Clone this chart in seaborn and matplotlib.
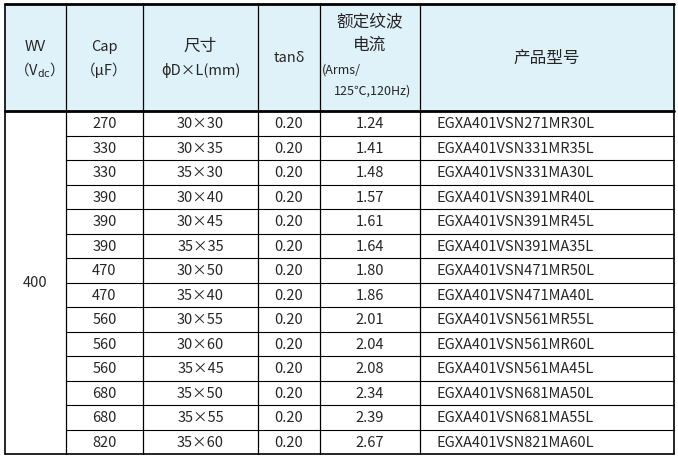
import matplotlib
matplotlib.use("Agg")
import matplotlib.pyplot as plt
import seaborn as sns
from matplotlib.patches import Rectangle

sns.set_theme(style="white")
plt.rcParams['font.family'] = ['Noto Sans CJK SC', 'DejaVu Sans']

wv = "400"
caps = ["270","330","330","390","390","390","470","470","560","560","560","680","680","820"]
sizes = ["30×30","30×35","35×30","30×40","30×45","35×35","30×50","35×40","30×55","30×60","35×45","35×50","35×55","35×60"]
tand = ["0.20"]*14
ripple = ["1.24","1.41","1.48","1.57","1.61","1.64","1.80","1.86","2.01","2.04","2.08","2.34","2.39","2.67"]
parts = ["EGXA401VSN271MR30L","EGXA401VSN331MR35L","EGXA401VSN331MA30L","EGXA401VSN391MR40L",
         "EGXA401VSN391MR45L","EGXA401VSN391MA35L","EGXA401VSN471MR50L","EGXA401VSN471MA40L",
         "EGXA401VSN561MR55L","EGXA401VSN561MR60L","EGXA401VSN561MA45L","EGXA401VSN681MA50L",
         "EGXA401VSN681MA55L","EGXA401VSN821MA60L"]

cols = [5, 66, 143, 258, 320, 420, 674]
top, hbot, bot = 5, 112, 455
n = len(caps)
rh = (bot - hbot) / n

fig = plt.figure(figsize=(6.78, 4.6), dpi=100)
ax = fig.add_axes([0, 0, 1, 1])
ax.set_xlim(0, 678); ax.set_ylim(460, 0); ax.axis("off")

ax.add_patch(Rectangle((cols[0], top), cols[-1]-cols[0], hbot-top, color="#dff1f9", zorder=0))

# header texts
hc = [(cols[i]+cols[i+1])/2 for i in range(6)]
fs = 10.5
ax.text(hc[0], 47, "WV", ha="center", va="center", fontsize=fs)
ax.text(hc[0], 70, "（V$_{\\rm dc}$）", ha="center", va="center", fontsize=fs)
ax.text(hc[1], 47, "Cap", ha="center", va="center", fontsize=fs)
ax.text(hc[1], 70, "（μF）", ha="center", va="center", fontsize=fs)
ax.text(hc[2], 46, "尺寸", ha="center", va="center", fontsize=12)
ax.text(hc[2], 70, "ϕD×L(mm)", ha="center", va="center", fontsize=fs)
ax.text(hc[3], 58, "tanδ", ha="center", va="center", fontsize=fs)
ax.text(hc[4], 22, "额定纹波", ha="center", va="center", fontsize=12)
ax.text(hc[4], 45, "电流", ha="center", va="center", fontsize=12)
ax.text(322, 70, "(Arms/", ha="left", va="center", fontsize=9)
ax.text(hc[4]+3, 91, "125℃,120Hz)", ha="center", va="center", fontsize=9)
ax.text(hc[5], 58, "产品型号", ha="center", va="center", fontsize=12)

# data
for i in range(n):
    y = hbot + rh*(i+0.5)
    ax.text(hc[1], y, caps[i], ha="center", va="center", fontsize=fs)
    ax.text(hc[2], y, sizes[i], ha="center", va="center", fontsize=fs)
    ax.text(hc[3], y, tand[i], ha="center", va="center", fontsize=fs)
    ax.text(hc[4], y, ripple[i], ha="center", va="center", fontsize=fs)
    ax.text(437, y, parts[i], ha="left", va="center", fontsize=fs)
ax.text(hc[0], (hbot+bot)/2, wv, ha="center", va="center", fontsize=fs)

# lines
for x in cols:
    ax.plot([x, x], [top, bot], color="black", lw=1.2 if x in (cols[0], cols[-1]) else 0.9)
ax.plot([cols[0], cols[-1]], [top, top], color="black", lw=2)
ax.plot([cols[0], cols[-1]], [hbot, hbot], color="black", lw=2)
ax.plot([cols[0], cols[-1]], [bot, bot], color="black", lw=1.2)
for i in range(1, n):
    y = hbot + rh*i
    ax.plot([cols[1], cols[-1]], [y, y], color="black", lw=0.8)

fig.savefig("out.png", dpi=100)
